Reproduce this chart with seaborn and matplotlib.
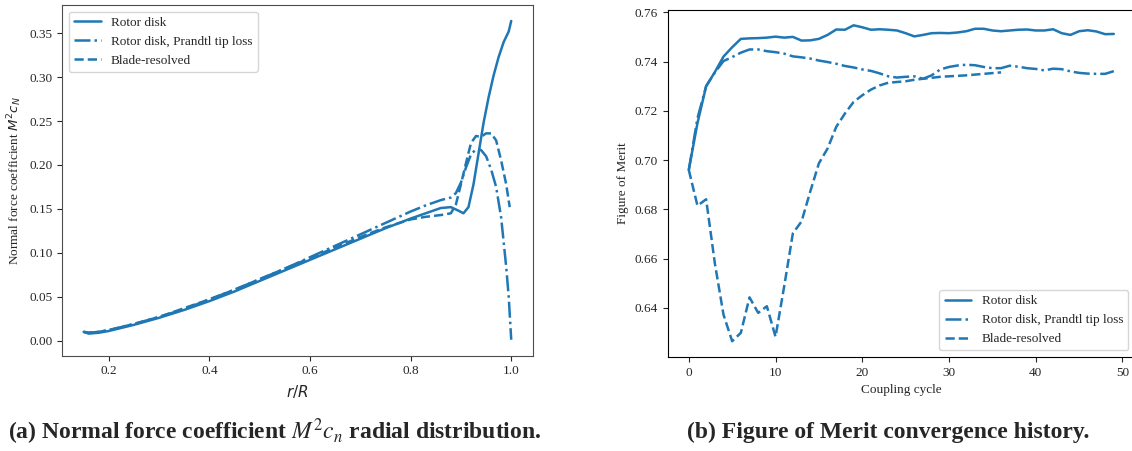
# IMPORT LIBRARIES

import numpy as np
import pandas as pd
import matplotlib
matplotlib.use("Agg")
import matplotlib.pyplot as plt
import seaborn as sns


# DATA - LEFT: NORMAL FORCE COEFFICIENT

r_disk = [0.15, 0.16, 0.18, 0.2, 0.25, 0.3, 0.35, 0.4, 0.45, 0.5, 0.55, 0.6,
          0.65, 0.7, 0.75, 0.8, 0.83, 0.86, 0.88, 0.895, 0.905, 0.915, 0.925,
          0.935, 0.945, 0.955, 0.965, 0.975, 0.985, 0.995, 1.0]
cn_disk = [0.010, 0.008, 0.009, 0.011, 0.018, 0.026, 0.035, 0.045, 0.056,
           0.068, 0.080, 0.092, 0.104, 0.116, 0.128, 0.139, 0.145, 0.151,
           0.152, 0.148, 0.145, 0.152, 0.178, 0.213, 0.248, 0.277, 0.302,
           0.323, 0.340, 0.352, 0.364]

r_prandtl = [0.15, 0.16, 0.18, 0.2, 0.25, 0.3, 0.35, 0.4, 0.45, 0.5, 0.55,
             0.6, 0.65, 0.7, 0.75, 0.8, 0.83, 0.86, 0.88, 0.89, 0.9, 0.91,
             0.92, 0.93, 0.94, 0.95, 0.96, 0.97, 0.98, 0.99, 0.995, 1.0]
cn_prandtl = [0.010, 0.009, 0.010, 0.012, 0.019, 0.027, 0.036, 0.047, 0.058,
              0.070, 0.082, 0.095, 0.108, 0.121, 0.134, 0.147, 0.154, 0.160,
              0.163, 0.168, 0.180, 0.197, 0.212, 0.218, 0.217, 0.210, 0.195,
              0.175, 0.140, 0.084, 0.050, 0.001]

r_blade = [0.15, 0.16, 0.18, 0.2, 0.25, 0.3, 0.35, 0.4, 0.45, 0.5, 0.55, 0.6,
           0.65, 0.7, 0.75, 0.8, 0.83, 0.86, 0.88, 0.89, 0.9, 0.91, 0.92,
           0.93, 0.94, 0.95, 0.96, 0.97, 0.98, 0.99, 0.997]
cn_blade = [0.010, 0.009, 0.010, 0.012, 0.019, 0.027, 0.037, 0.047, 0.058,
            0.070, 0.082, 0.094, 0.106, 0.118, 0.129, 0.138, 0.141, 0.143,
            0.145, 0.155, 0.178, 0.202, 0.225, 0.233, 0.232, 0.236, 0.236,
            0.228, 0.205, 0.178, 0.152]


# DATA - RIGHT: FIGURE OF MERIT HISTORY

fm_disk = [0.696, 0.715, 0.730, 0.7357, 0.742, 0.7458, 0.7492, 0.7494,
           0.7495, 0.7497, 0.7501, 0.7497, 0.7500, 0.7485, 0.7486, 0.7492,
           0.7508, 0.7530, 0.7529, 0.7547, 0.7539, 0.7529, 0.7531, 0.7529,
           0.7526, 0.7515, 0.7502, 0.7508, 0.7515, 0.7516, 0.7515, 0.7518,
           0.7523, 0.7533, 0.7533, 0.7526, 0.7523, 0.7526, 0.7529, 0.7530,
           0.7526, 0.7526, 0.7531, 0.7515, 0.7508, 0.7523, 0.7527, 0.7522,
           0.7511, 0.7512]

fm_prandtl = [0.696, 0.717, 0.730, 0.7355, 0.7402, 0.7418, 0.7436, 0.7449,
              0.7449, 0.7442, 0.7438, 0.7432, 0.7421, 0.7417, 0.7412, 0.7404,
              0.7398, 0.7391, 0.7382, 0.7376, 0.7368, 0.7362, 0.7352, 0.7340,
              0.7335, 0.7338, 0.7340, 0.7330, 0.7344, 0.7368, 0.7378, 0.7384,
              0.7387, 0.7385, 0.7378, 0.7373, 0.7373, 0.7383, 0.7379, 0.7373,
              0.7370, 0.7364, 0.7371, 0.7369, 0.7360, 0.7354, 0.7351, 0.7350,
              0.7350, 0.7361]

fm_blade = [0.696, 0.6815, 0.6841, 0.6582, 0.6373, 0.6265, 0.6299, 0.6443,
            0.6380, 0.6407, 0.6283, 0.6488, 0.6703, 0.6751, 0.6872, 0.6987,
            0.7047, 0.7135, 0.7189, 0.7236, 0.7263, 0.7286, 0.7303, 0.7314,
            0.7317, 0.7320, 0.7326, 0.7330, 0.7334, 0.7338, 0.7340, 0.7342,
            0.7344, 0.7347, 0.7350, 0.7353, 0.7356]

labels = ["Rotor disk", "Rotor disk, Prandtl tip loss", "Blade-resolved"]
styles = ["-", "-.", "--"]


# STYLE

sns.set_style("ticks")
plt.rcParams['font.family'] = ['Liberation Serif', 'DejaVu Serif']
plt.rcParams['font.size'] = 9.5
plt.rcParams['mathtext.fontset'] = 'dejavusans'

color = "#1f77b4"
lw = 1.8


# FIGURE

fig = plt.figure(figsize=(11.32, 4.51), dpi=100)
ax1 = fig.add_axes([0.0550, 0.2113, 0.4155, 0.7776])
ax2 = fig.add_axes([0.5897, 0.2084, 0.4130, 0.7705])


# LEFT PLOT

left_series = [(r_disk, cn_disk), (r_prandtl, cn_prandtl), (r_blade, cn_blade)]

for (r, cn), lab, ls in zip(left_series, labels, styles):
    sns.lineplot(x=r, y=cn, ax=ax1, color=color, linewidth=lw,
                 linestyle=ls, label=lab)

ax1.set_xticks([0.2, 0.4, 0.6, 0.8, 1.0])
ax1.set_yticks(np.arange(0, 0.36, 0.05))
ax1.yaxis.set_major_formatter(matplotlib.ticker.FormatStrFormatter('%.2f'))
ax1.tick_params(labelsize=9.5)
ax1.set_xlabel("$r/R$", fontsize=11)
ax1.set_ylabel("Normal force coefficient $M^2c_N$", fontsize=9.5)
ax1.legend(loc="upper left", fontsize=9.5)
for s in ax1.spines.values():
    s.set_color("0.3")


# RIGHT PLOT

cycles_full = np.arange(len(fm_disk))
cycles_blade = np.arange(len(fm_blade))
right_series = [(cycles_full, fm_disk), (cycles_full, fm_prandtl),
                (cycles_blade, fm_blade)]

for (c, fm), lab, ls in zip(right_series, labels, styles):
    sns.lineplot(x=c, y=fm, ax=ax2, color=color, linewidth=lw,
                 linestyle=ls, label=lab)

ax2.set_xticks([0, 10, 20, 30, 40, 50])
ax2.set_yticks([0.64, 0.66, 0.68, 0.70, 0.72, 0.74, 0.76])
ax2.yaxis.set_major_formatter(matplotlib.ticker.FormatStrFormatter('%.2f'))
ax2.tick_params(labelsize=9.5)
ax2.set_xlabel("Coupling cycle", fontsize=9.5)
ax2.set_ylabel("Figure of Merit", fontsize=9.5)
ax2.legend(loc="lower right", fontsize=9.5)
for s in ax2.spines.values():
    s.set_color("black")


# CAPTIONS

fig.text(0.243, 0.042, "(a) Normal force coefficient $M^2c_n$ radial distribution.",
         ha="center", va="center", fontsize=17, fontweight="bold",
         math_fontfamily="stix")
fig.text(0.785, 0.042, "(b) Figure of Merit convergence history.",
         ha="center", va="center", fontsize=17, fontweight="bold")


# SAVE

fig.savefig("out.png", dpi=100)
plt.close(fig)
